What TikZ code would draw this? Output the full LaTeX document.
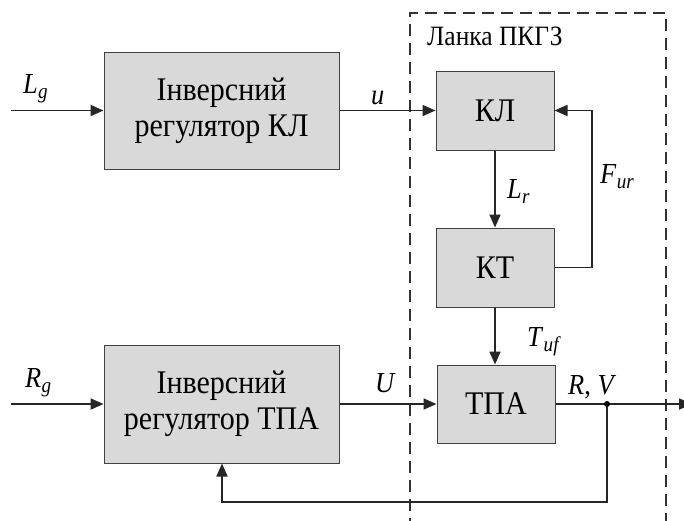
\documentclass[tikz,border=0pt]{standalone}
\usepackage{fontspec}
\setmainfont[FakeStretch=0.91]{Liberation Serif}
\usetikzlibrary{arrows.meta}
\newcommand\sbs[2]{\textit{#1}\kern0.01em\raisebox{-0.2em}{\fontsize{21}{21}\selectfont\textit{#2}}}
\begin{document}
\begin{tikzpicture}[x=1pt,y=-1pt,
  blk/.style={draw=black!75, line width=1pt, fill=black!15, inner sep=0pt, align=center,
              font=\fontsize{33}{36}\selectfont},
  lbl/.style={inner sep=0pt, font=\fontsize{29}{30}\selectfont},
  conn/.style={line width=1.8pt, draw=black!85},
  arr/.style={conn, -{Triangle[length=13pt,width=11pt]}},
  frame/.style={line width=1.6pt, draw=black!80, dash pattern=on 12pt off 7pt}
]
\useasboundingbox (0,0) rectangle (684,520);
% dashed frame
\draw[frame] (410,530) -- (410,13) -- (666,13) -- (666,530);
\node[inner sep=0pt, font=\fontsize{28}{30}\selectfont, anchor=base west] (frm) at (427,45) {Ланка ПКГЗ};

% blocks
\node[blk, minimum width=235pt, minimum height=117pt] (reg1) at (221.5,110.5) {Інверсний\\регулятор КЛ};
\node[blk, minimum width=235pt, minimum height=118pt] (reg2) at (221.5,404) {Інверсний\\регулятор ТПА};
\node[blk, minimum width=118pt, minimum height=79pt] (kl) at (495,110.5) {КЛ};
\node[blk, minimum width=118pt, minimum height=79pt] (kt) at (495,267.5) {КТ};
\node[blk, minimum width=118pt, minimum height=78pt] (tpa) at (496,404) {ТПА};

% free ends and bends
\coordinate (in1) at (11,110.5);
\coordinate (in2) at (11,404);
\coordinate (fb1) at (592,267.5);
\coordinate (fb2) at (592,110.5);
\coordinate (jn) at (607,404);
\coordinate (outp) at (692,404);
\coordinate (fb3) at (607,502);
\coordinate (fb4) at (222,502);

% connectors
\draw[arr] (in1) -- (reg1.west);
\draw[arr] (reg1.east) -- (kl.west);
\draw[arr] (kl.south) -- (kt.north);
\draw[arr] (kt.east) -- (fb1) -- (fb2) -- (kl.east);
\draw[arr] (kt.south) -- (kt.south |- tpa.north);
\draw[arr] (in2) -- (reg2.west);
\draw[arr] (reg2.east) -- (reg2.east -| tpa.west);
\draw[arr] (tpa.east) -- (outp);
\draw[arr] (jn) -- (fb3) -- (fb4) -- (reg2.south -| fb4);
\fill (jn) circle (3pt);

% labels
\node[lbl, anchor=base west] (llg) at (23,93) {\sbs{L}{g}};
\node[lbl, anchor=base west] (lu) at (371,104) {\textit{u}};
\node[lbl, anchor=base west] (llr) at (507,198) {\sbs{L}{r}};
\node[lbl, anchor=base west] (lfur) at (600,183) {\sbs{F}{ur}};
\node[lbl, anchor=base west] (ltuf) at (527,346) {\sbs{T}{uf}};
\node[lbl, anchor=base west] (lrg) at (25,387) {\sbs{R}{g}};
\node[lbl, anchor=base west] (lU) at (375,392) {\textit{U}};
\node[lbl, anchor=base west] (lrv) at (568,394) {\textit{R}, \textit{V}};
\end{tikzpicture}
\end{document}
